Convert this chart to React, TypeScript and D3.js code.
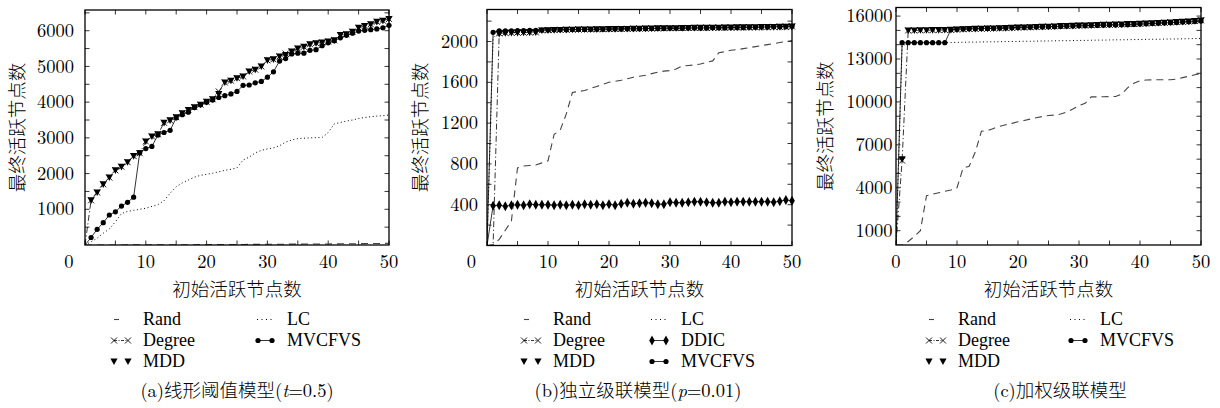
import React from "react";
import * as d3 from "d3";

// x values: number of initial active nodes
const xs = d3.range(0, 51);
const xTickLabels = [0, 10, 20, 30, 40, 50];

// (a) linear threshold model
const aYTickLabels = [1000, 2000, 3000, 4000, 5000, 6000];
const aRand = [0, 0, 0, 1, 1, 2, 2, 3, 3, 4, 4, 5, 5, 6, 7, 7, 8, 9, 9, 10, 11, 12, 12, 13, 14, 15, 16, 17, 18, 19, 20, 21, 22, 23, 24, 25, 26, 27, 28, 29, 30, 32, 33, 34, 36, 37, 39, 41, 43, 45, 48];
const aDegree = [0, 1250, 1470, 1700, 1890, 2090, 2190, 2320, 2490, 2570, 2900, 3040, 3100, 3420, 3490, 3580, 3690, 3780, 3860, 3930, 4010, 4080, 4300, 4550, 4600, 4670, 4720, 4860, 4910, 5000, 5170, 5200, 5280, 5360, 5420, 5500, 5550, 5620, 5650, 5670, 5700, 5730, 5880, 5900, 5970, 6080, 6130, 6180, 6250, 6280, 6330];
const aMDD = [0, 1250, 1470, 1700, 1890, 2090, 2190, 2320, 2490, 2570, 2900, 3040, 3100, 3420, 3490, 3580, 3690, 3780, 3860, 3930, 4010, 4080, 4230, 4550, 4600, 4670, 4720, 4860, 4910, 5000, 5170, 5200, 5280, 5320, 5420, 5500, 5550, 5620, 5650, 5670, 5700, 5730, 5880, 5900, 5970, 6080, 6130, 6180, 6250, 6280, 6330];
const aLC = [0, 90, 190, 330, 450, 650, 880, 940, 970, 1000, 1030, 1080, 1130, 1240, 1450, 1630, 1740, 1820, 1900, 1950, 1980, 2010, 2050, 2090, 2120, 2160, 2380, 2460, 2580, 2650, 2690, 2720, 2780, 2880, 2940, 2980, 2990, 3000, 3005, 3010, 3150, 3390, 3430, 3470, 3500, 3540, 3570, 3590, 3610, 3620, 3640];
const aMVCFVS = [0, 210, 440, 625, 840, 930, 1090, 1195, 1340, 2585, 2700, 2760, 3080, 3150, 3210, 3560, 3650, 3720, 3850, 3930, 4000, 4060, 4130, 4180, 4230, 4300, 4470, 4480, 4540, 4580, 4700, 4850, 5150, 5220, 5350, 5370, 5370, 5450, 5470, 5580, 5660, 5720, 5800, 5870, 5930, 5990, 6010, 6030, 6050, 6080, 6150];

// (b) independent cascade model
const bYTickLabels = [400, 800, 1200, 1600, 2000];
const bRand = [0, 10, 60, 150, 240, 760, 780, 785, 790, 810, 830, 1090, 1130, 1290, 1500, 1510, 1520, 1540, 1560, 1580, 1600, 1610, 1620, 1635, 1650, 1660, 1670, 1685, 1700, 1710, 1715, 1730, 1760, 1765, 1770, 1780, 1795, 1810, 1890, 1900, 1915, 1920, 1930, 1940, 1950, 1960, 1970, 1980, 1990, 2000, 2010];
const bDegree = [0, 0, 2080, 2085, 2085, 2088, 2088, 2090, 2090, 2110, 2112, 2114, 2115, 2116, 2117, 2118, 2119, 2120, 2120, 2121, 2122, 2123, 2124, 2125, 2126, 2127, 2128, 2128, 2129, 2130, 2131, 2132, 2133, 2133, 2134, 2135, 2135, 2136, 2137, 2137, 2138, 2139, 2140, 2140, 2141, 2142, 2143, 2144, 2145, 2146, 2148];
const bMDD = [0, 0, 2075, 2082, 2085, 2085, 2088, 2088, 2090, 2108, 2110, 2112, 2114, 2115, 2116, 2118, 2118, 2119, 2120, 2121, 2122, 2122, 2123, 2124, 2125, 2126, 2127, 2128, 2129, 2130, 2130, 2131, 2132, 2133, 2134, 2134, 2135, 2136, 2136, 2137, 2138, 2139, 2139, 2140, 2141, 2142, 2143, 2143, 2144, 2145, 2147];
const bLC = [0, 2040, 2080, 2085, 2088, 2090, 2092, 2093, 2094, 2095, 2096, 2097, 2098, 2098, 2099, 2100, 2100, 2101, 2102, 2102, 2103, 2104, 2104, 2105, 2105, 2106, 2106, 2107, 2107, 2108, 2108, 2109, 2109, 2110, 2110, 2110, 2111, 2111, 2112, 2112, 2112, 2113, 2113, 2114, 2114, 2114, 2115, 2115, 2116, 2116, 2117];
const bDDIC = [0, 390, 395, 385, 395, 400, 395, 405, 400, 400, 400, 395, 400, 395, 400, 395, 405, 400, 405, 395, 405, 395, 410, 420, 410, 415, 420, 415, 405, 405, 425, 420, 420, 425, 430, 430, 425, 420, 420, 430, 425, 430, 430, 430, 430, 430, 430, 425, 435, 445, 440];
const bMVCFVS = [0, 2090, 2105, 2105, 2105, 2108, 2108, 2110, 2110, 2112, 2112, 2115, 2115, 2115, 2118, 2118, 2118, 2120, 2120, 2120, 2122, 2122, 2122, 2125, 2125, 2125, 2127, 2127, 2128, 2128, 2130, 2130, 2130, 2132, 2132, 2133, 2133, 2135, 2135, 2135, 2137, 2137, 2138, 2140, 2140, 2142, 2143, 2145, 2146, 2148, 2150];

// (c) weighted cascade model
const cYTickLabels = [1000, 4000, 7000, 10000, 13000, 16000];
const cRand = [0, 0, 250, 600, 1000, 3450, 3550, 3650, 3750, 3850, 4000, 5380, 5500, 6500, 7950, 8000, 8150, 8300, 8400, 8500, 8620, 8700, 8800, 8900, 8980, 9050, 9080, 9150, 9300, 9500, 9750, 9900, 10350, 10350, 10360, 10370, 10380, 10550, 11000, 11300, 11480, 11530, 11540, 11550, 11550, 11550, 11600, 11700, 11800, 11900, 12000];
const cDegree = [0, 5900, 15000, 15000, 15010, 15010, 15020, 15020, 15030, 15040, 15060, 15080, 15100, 15110, 15120, 15130, 15140, 15150, 15160, 15180, 15200, 15210, 15220, 15240, 15250, 15260, 15280, 15300, 15310, 15320, 15340, 15350, 15360, 15380, 15390, 15400, 15410, 15420, 15440, 15450, 15460, 15480, 15500, 15520, 15540, 15560, 15580, 15600, 15620, 15650, 15700];
const cMDD = [0, 6000, 15000, 15000, 15010, 15010, 15020, 15020, 15030, 15040, 15060, 15080, 15100, 15110, 15120, 15130, 15140, 15150, 15160, 15180, 15200, 15210, 15220, 15240, 15250, 15260, 15280, 15300, 15310, 15320, 15340, 15350, 15360, 15380, 15390, 15400, 15410, 15420, 15440, 15450, 15460, 15480, 15500, 15520, 15540, 15560, 15580, 15600, 15620, 15650, 15700];
const cLC = [0, 13900, 14140, 14140, 14140, 14140, 14140, 14140, 14140, 14150, 14160, 14170, 14180, 14180, 14190, 14200, 14200, 14210, 14220, 14220, 14230, 14240, 14240, 14250, 14260, 14260, 14270, 14280, 14280, 14290, 14300, 14300, 14310, 14320, 14320, 14330, 14340, 14340, 14350, 14360, 14360, 14370, 14380, 14380, 14390, 14400, 14400, 14410, 14420, 14430, 14440];
const cMVCFVS = [0, 14140, 14140, 14140, 14140, 14140, 14140, 14140, 14140, 15050, 15080, 15100, 15110, 15120, 15130, 15140, 15150, 15160, 15170, 15180, 15200, 15210, 15220, 15230, 15240, 15250, 15260, 15280, 15290, 15300, 15320, 15330, 15340, 15350, 15360, 15370, 15380, 15390, 15400, 15420, 15440, 15460, 15480, 15500, 15520, 15540, 15560, 15580, 15600, 15620, 15650];

const LATIN = "'Latin Modern Roman', 'Liberation Serif', 'Noto Sans CJK SC', serif";
const LEGEND_FONT = "'Liberation Serif', serif";
const CJK = "'Noto Sans CJK SC', 'Liberation Serif', sans-serif";

// how each method is drawn
const styles = {
  Rand: { dash: "7,5", stroke: "#444", width: 1.1, line: true, marker: null },
  Degree: { dash: "6,2.5,1.2,2.5", stroke: "#000", width: 0.8, line: true, marker: "x" },
  MDD: { dash: null, stroke: "#000", width: 0.8, line: false, marker: "tri" },
  LC: { dash: "1,2.6", stroke: "#000", width: 1, line: true, marker: null },
  DDIC: { dash: null, stroke: "#000", width: 0.8, line: true, marker: "diamond" },
  MVCFVS: { dash: null, stroke: "#000", width: 0.8, line: true, marker: "circle" },
};

const panels = [
  {
    key: "a",
    left: 85, right: 389, top: 10, bottom: 245,
    yMax: 6580, yStep: 500, yLabels: aYTickLabels,
    yLabelRight: 74, yTitleX: 16, zeroShift: -16,
    series: [["Rand", aRand], ["LC", aLC], ["Degree", aDegree], ["MDD", aMDD], ["MVCFVS", aMVCFVS]],
    col1: ["Rand", "Degree", "MDD"], col2: ["LC", "MVCFVS"],
    col1X: 143, col2X: 287, captionX: 237,
    caption: [["(a)线形阈值模型(", false], ["t", true], ["=0.5)", false]],
  },
  {
    key: "b",
    left: 487, right: 792, top: 9.5, bottom: 245.5,
    yMax: 2314, yStep: 200, yLabels: bYTickLabels,
    yLabelRight: 478, yTitleX: 419, zeroShift: -15.5,
    series: [["Rand", bRand], ["LC", bLC], ["Degree", bDegree], ["MDD", bMDD], ["DDIC", bDDIC], ["MVCFVS", bMVCFVS]],
    col1: ["Rand", "Degree", "MDD"], col2: ["LC", "DDIC", "MVCFVS"],
    col1X: 553, col2X: 681, captionX: 638,
    caption: [["(b)独立级联模型(", false], ["p", true], ["=0.01)", false]],
  },
  {
    key: "c",
    left: 896, right: 1201, top: 7.5, bottom: 245,
    yMax: 16600, yStep: 1000, yLabels: cYTickLabels,
    yLabelRight: 892.5, yTitleX: 823.5, zeroShift: 0,
    series: [["Rand", cRand], ["LC", cLC], ["Degree", cDegree], ["MDD", cMDD], ["MVCFVS", cMVCFVS]],
    col1: ["Rand", "Degree", "MDD"], col2: ["LC", "MVCFVS"],
    col1X: 958, col2X: 1100, captionX: 1060,
    caption: [["(c)加权级联模型", false]],
  },
];

const legendRows = [325, 346, 367];

function Marker({ kind, cx, cy }) {
  if (kind === "x") {
    const s = 3;
    return <path d={`M${cx - s},${cy - s}L${cx + s},${cy + s}M${cx - s},${cy + s}L${cx + s},${cy - s}`} stroke="#000" strokeWidth={0.9} fill="none" />;
  }
  if (kind === "tri") {
    return <path d={`M${cx - 3.6},${cy - 3}L${cx + 3.6},${cy - 3}L${cx},${cy + 3.6}Z`} fill="#000" />;
  }
  if (kind === "circle") {
    return <circle cx={cx} cy={cy} r={2.6} fill="#000" />;
  }
  if (kind === "diamond") {
    return <path d={`M${cx},${cy - 5}L${cx + 2.8},${cy}L${cx},${cy + 5}L${cx - 2.8},${cy}Z`} fill="#000" />;
  }
  return null;
}

function LegendSymbol({ name, x, y }) {
  const st = styles[name];
  if (name === "Rand") {
    return <line x1={x + 1} x2={x + 6} y1={y} y2={y} stroke={st.stroke} strokeWidth={1.1} />;
  }
  if (name === "LC") {
    return <line x1={x} x2={x + 16} y1={y} y2={y} stroke="#000" strokeWidth={1} strokeDasharray="1,3.5" />;
  }
  return (
    <g>
      {st.line && <line x1={x + 1} x2={x + 15} y1={y} y2={y} stroke="#000" strokeWidth={st.width} strokeDasharray={name === "Degree" ? "3,1.5,1,1.5" : undefined} />}
      <Marker kind={st.marker} cx={x + 1} cy={y} />
      <Marker kind={st.marker} cx={x + 15} cy={y} />
    </g>
  );
}

function LegendColumn({ names, x }) {
  return (
    <g>
      {names.map((name, i) => (
        <g key={name}>
          <LegendSymbol name={name} x={x - 30} y={legendRows[i] - 5.5} />
          <text x={x} y={legendRows[i]} fontFamily={LEGEND_FONT} fontSize={18}>{name}</text>
        </g>
      ))}
    </g>
  );
}

function Panel({ p }) {
  const x = d3.scaleLinear().domain([0, 50]).range([p.left, p.right]);
  const y = d3.scaleLinear().domain([0, p.yMax]).range([p.bottom, p.top]);
  const xTicks = d3.range(0, 51, 5);
  const yTicks = d3.range(p.yStep, p.yMax, p.yStep);
  const line = d3.line().x((d, i) => x(xs[i])).y((d) => y(d));
  const clipId = "clip-" + p.key;
  const cx = (p.left + p.right) / 2;
  const cy = (p.top + p.bottom) / 2;
  const tl = 4.5;

  return (
    <g>
      <defs>
        <clipPath id={clipId}>
          <rect x={p.left} y={p.top - 6} width={p.right - p.left + 6} height={p.bottom - p.top + 6} />
        </clipPath>
      </defs>

      {/* ticks on all four sides, pointing in */}
      {xTicks.map((t) => (
        <g key={"xt" + t}>
          <line x1={x(t)} x2={x(t)} y1={p.bottom} y2={p.bottom - tl} stroke="#000" strokeWidth={0.8} />
          <line x1={x(t)} x2={x(t)} y1={p.top} y2={p.top + tl} stroke="#000" strokeWidth={0.8} />
        </g>
      ))}
      {yTicks.map((t) => (
        <g key={"yt" + t}>
          <line x1={p.left} x2={p.left + tl} y1={y(t)} y2={y(t)} stroke="#000" strokeWidth={0.8} />
          <line x1={p.right} x2={p.right - tl} y1={y(t)} y2={y(t)} stroke="#000" strokeWidth={0.8} />
        </g>
      ))}

      {/* series */}
      <g clipPath={`url(#${clipId})`}>
        {p.series.map(([name, vals]) => {
          const st = styles[name];
          if (!st.line) return null;
          return (
            <path key={"l" + name} d={line(vals)} fill="none" stroke={st.stroke} strokeWidth={st.width} strokeDasharray={st.dash || undefined} />
          );
        })}
        {p.series.map(([name, vals]) => {
          const st = styles[name];
          if (!st.marker) return null;
          return (
            <g key={"m" + name}>
              {vals.map((v, i) => (i === 0 || v <= 0 ? null : <Marker key={i} kind={st.marker} cx={x(xs[i])} cy={y(v)} />))}
            </g>
          );
        })}
      </g>

      <rect x={p.left} y={p.top} width={p.right - p.left} height={p.bottom - p.top} fill="none" stroke="#000" strokeWidth={1.3} />

      {/* tick labels */}
      {xTickLabels.map((t) => (
        <text key={"xl" + t} x={x(t) + (t === 0 ? p.zeroShift : 0)} y={268} textAnchor="middle" fontFamily={LATIN} fontSize={18.5}>
          {t}
        </text>
      ))}
      {p.yLabels.map((t) => (
        <text key={"yl" + t} x={p.yLabelRight} y={y(t)} dy="0.33em" textAnchor="end" fontFamily={LATIN} fontSize={18.5}>
          {t}
        </text>
      ))}

      {/* axis titles */}
      <text x={cx} y={296} textAnchor="middle" fontFamily={CJK} fontWeight={300} fontSize={18.5}>
        初始活跃节点数
      </text>
      <text
        transform={`translate(${p.yTitleX},${cy}) rotate(-90)`}
        textAnchor="middle"
        dominantBaseline="central"
        fontFamily={CJK}
        fontWeight={300}
        fontSize={18.5}
      >
        最终活跃节点数
      </text>

      {/* legend */}
      <LegendColumn names={p.col1} x={p.col1X} />
      <LegendColumn names={p.col2} x={p.col2X} />

      {/* caption */}
      <text x={p.captionX} y={397} textAnchor="middle" fontFamily={LATIN} fontSize={18.5}>
        {p.caption.map(([s, it], i) => (
          <tspan key={i} fontStyle={it ? "italic" : "normal"} fontWeight={it ? 400 : 300}>{s}</tspan>
        ))}
      </text>
    </g>
  );
}

export default function App() {
  return (
    <svg width={1220} height={408} viewBox="0 0 1220 408" style={{ position: "absolute", left: 0, top: 0, background: "#fff" }}>
      <rect x={0} y={0} width={1220} height={408} fill="#fff" />
      {panels.map((p) => (
        <Panel key={p.key} p={p} />
      ))}
    </svg>
  );
}
